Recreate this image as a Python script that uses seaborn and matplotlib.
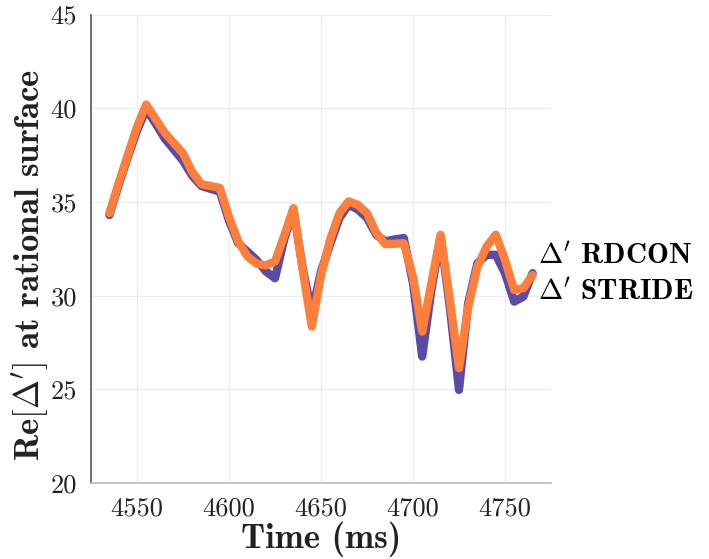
import numpy as np
import pandas as pd
import seaborn as sns
import matplotlib
matplotlib.use("Agg")
import matplotlib.pyplot as plt

# ---- data ----
time_ms = [4535, 4540, 4545, 4550, 4555, 4560, 4565, 4570, 4575, 4580,
           4585, 4590, 4595, 4600, 4605, 4610, 4615, 4620, 4625, 4630,
           4635, 4640, 4645, 4650, 4655, 4660, 4665, 4670, 4675, 4680,
           4685, 4690, 4695, 4700, 4705, 4710, 4715, 4720, 4725, 4730,
           4735, 4740, 4745, 4750, 4755, 4760, 4765]
rdcon = [34.3, 35.9, 37.4, 38.8, 39.95, 39.2, 38.4, 37.8, 37.2, 36.4,
         35.85, 35.7, 35.55, 34.0, 32.8, 32.35, 31.9, 31.3, 30.93, 33.0,
         34.58, 31.5, 29.07, 31.3, 32.75, 34.14, 34.85, 34.6, 34.15, 33.25,
         32.9, 33.0, 33.07, 30.67, 26.75, 30.3, 33.16, 29.4, 24.97, 29.6,
         31.73, 32.18, 32.18, 31.2, 29.68, 29.95, 31.2]
stride = [34.4, 36.0, 37.5, 39.0, 40.2, 39.45, 38.7, 38.15, 37.6, 36.6,
          35.95, 35.85, 35.75, 34.2, 32.9, 32.1, 31.7, 31.62, 31.82, 33.2,
          34.67, 31.4, 28.35, 31.1, 33.0, 34.4, 35.03, 34.85, 34.4, 33.35,
          32.75, 32.77, 32.8, 31.0, 28.08, 30.67, 33.25, 29.78, 26.13, 29.4,
          31.55, 32.62, 33.25, 31.9, 30.3, 30.4, 31.1]
series_names = [r"$\Delta'$ RDCON", r"$\Delta'$ STRIDE"]
label_y = [32.1, 30.2]
x_ticks = [4550, 4600, 4650, 4700, 4750]
y_ticks = [20, 25, 30, 35, 40, 45]
colors = ["#5B4BA6", "#FE7F3B"]

df = pd.DataFrame({
    "time": time_ms * 2,
    "value": rdcon + stride,
    "series": [series_names[0]] * len(time_ms) + [series_names[1]] * len(time_ms),
})

sns.set_theme(style="white")
plt.rcParams["mathtext.fontset"] = "cm"
plt.rcParams["axes.formatter.use_mathtext"] = True
plt.rcParams["font.family"] = ["cmr10", "DejaVu Sans"]

fig = plt.figure(figsize=(7.09, 5.59), dpi=100)
ax = fig.add_axes([91 / 709, 1 - 483 / 559, 460 / 709, (483 - 14.6) / 559])

sns.lineplot(data=df, x="time", y="value", hue="series", palette=colors,
             linewidth=6.0, ax=ax, legend=False, sort=False,
             solid_capstyle="round", solid_joinstyle="round")

ax.set_xlim(4525, 4775)
ax.set_ylim(20, 45)
ax.set_xticks(x_ticks)
ax.set_yticks(y_ticks)
ax.set_xticklabels([str(v) for v in x_ticks], fontfamily="cmr10", fontsize=19)
ax.set_yticklabels([str(v) for v in y_ticks], fontfamily="cmr10", fontsize=19)
ax.grid(True, color="#ececec", linewidth=0.8)
ax.set_axisbelow(True)
for s in ["top", "right"]:
    ax.spines[s].set_visible(False)
ax.spines["left"].set_color("#555555")
ax.spines["left"].set_linewidth(1.2)
ax.spines["bottom"].set_color("#bbbbbb")
ax.spines["bottom"].set_linewidth(1.2)
ax.tick_params(axis="both", direction="in", length=0, pad=10, colors="#222222")

ax.set_xlabel("Time (ms)", fontfamily="cmb10", fontsize=25, color="#222222")
ax.set_ylabel(r"Re$[\Delta']$ at rational surface", fontfamily="cmb10",
              fontsize=25, color="#222222")
ax.xaxis.set_label_coords(0.5, -0.083)
ax.yaxis.set_label_coords(-0.088, 0.465)

for name, yv in zip(series_names, label_y):
    ax.text(4768, yv, name, fontfamily="cmb10", fontsize=21, va="center",
            ha="left", clip_on=False, color="black")

fig.savefig("out.png", dpi=100)
